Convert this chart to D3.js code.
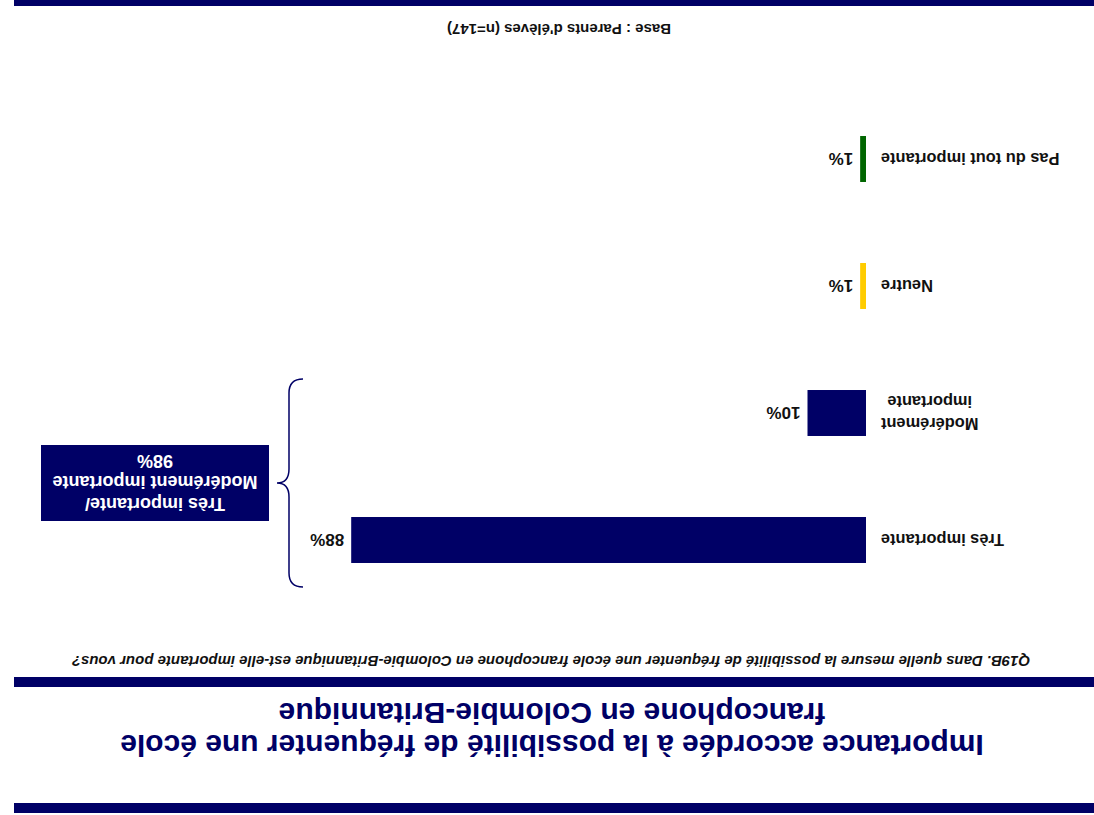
<!DOCTYPE html>
<html>
<head>
<meta charset="utf-8">
<script src="https://cdn.jsdelivr.net/npm/d3@7"></script>
<style>
  html, body { margin: 0; padding: 0; background: #fff; }
  svg { display: block; }
  text { font-family: "Liberation Sans", Arial, Helvetica, sans-serif; font-weight: bold; }
</style>
</head>
<body>
<svg id="chart" width="1094" height="815"></svg>
<script>
// Survey results: importance of attending a francophone school in B.C.
const categories = [
  ["Très importante"],
  ["Modérément", "importante"],
  ["Neutre"],
  ["Pas du tout importante"]
];
const values = [88, 10, 1, 1];
const barColors = ["#000066", "#000066", "#FFCC00", "#006600"];
const valueLabels = ["88%", "10%", "1%", "1%"];

const titleLines = [
  "Importance accordée à la possibilité de fréquenter une école",
  "francophone en Colombie-Britannique"
];
const questionText = "Q19B. Dans quelle mesure la possibilité de fréquenter une école francophone en Colombie-Britannique est-elle importante pour vous?";
const baseText = "Base : Parents d'élèves (n=147)";
const summaryLines = ["Très importante/", "Modérément importante", "98%"];
const summaryGroup = [0, 1]; // categories covered by the brace

(function draw() {
  const W = 1094, H = 815;
  const navy = "#000066";

  const svg = d3.select("#chart");
  // the whole slide is displayed turned half a revolution
  const g = svg.append("g").attr("transform", `rotate(180 ${W / 2} ${H / 2})`);

  // frame bands
  const bands = [[2, 10], [128, 10], [809, 6]];
  g.selectAll("rect.band").data(bands).join("rect")
    .attr("class", "band")
    .attr("x", 0).attr("y", d => d[0])
    .attr("width", 1080).attr("height", d => d[1])
    .attr("fill", navy);

  // title
  g.append("text")
    .attr("text-anchor", "middle")
    .attr("fill", navy)
    .attr("font-size", 30)
    .selectAll("tspan").data(titleLines).join("tspan")
    .attr("x", 542)
    .attr("y", (d, i) => 80 + i * 32)
    .text(d => d);

  // question
  g.append("text")
    .attr("x", 543).attr("y", 159)
    .attr("text-anchor", "middle")
    .attr("font-size", 15)
    .attr("font-style", "italic")
    .attr("fill", "#111")
    .text(questionText);

  // base
  g.append("text")
    .attr("x", 535).attr("y", 791)
    .attr("text-anchor", "middle")
    .attr("font-size", 15)
    .attr("fill", "#111")
    .text(baseText);

  // scales
  const x = d3.scaleLinear().domain([0, 100]).range([228, 228 + 585]);
  const y = d3.scaleBand()
    .domain(d3.range(categories.length))
    .range([211.5, 719.5])
    .paddingInner(0.638)
    .paddingOuter(0.319);

  // bars
  g.selectAll("rect.bar").data(values).join("rect")
    .attr("class", "bar")
    .attr("x", x(0))
    .attr("y", (d, i) => y(i))
    .attr("width", d => x(d) - x(0))
    .attr("height", y.bandwidth())
    .attr("fill", (d, i) => barColors[i]);

  // value labels
  g.selectAll("text.value").data(values).join("text")
    .attr("class", "value")
    .attr("x", d => x(d) + 7)
    .attr("y", (d, i) => y(i) + y.bandwidth() / 2 + 6)
    .attr("font-size", 17)
    .attr("fill", "#111")
    .text((d, i) => valueLabels[i]);

  // category labels (right-aligned, multi-line labels centred on their widest line)
  const labelRight = 213;
  categories.forEach((lines, i) => {
    const t = g.append("text")
      .attr("font-size", 16.4)
      .attr("fill", "#111");
    const cy = y(i) + y.bandwidth() / 2;
    const lh = 22;
    const spans = t.selectAll("tspan").data(lines).join("tspan")
      .attr("y", (d, j) => cy + 6 + (j - (lines.length - 1) / 2) * lh)
      .text(d => d);
    if (lines.length === 1) {
      spans.attr("x", labelRight).attr("text-anchor", "end");
    } else {
      const widths = spans.nodes().map(n => n.getComputedTextLength());
      const cx = labelRight - d3.max(widths) / 2;
      spans.attr("x", cx).attr("text-anchor", "middle");
    }
  });

  // brace grouping the two positive categories
  const yTop = y(summaryGroup[0]) - 24;
  const yBot = y(summaryGroup[1]) + y.bandwidth() + 11;
  const yMid = (yTop + yBot) / 2;
  const bx0 = 791, bx1 = 805, bx2 = 817, r = 14;
  const brace = d3.path();
  brace.moveTo(bx0, yTop);
  brace.quadraticCurveTo(bx1, yTop, bx1, yTop + r);
  brace.lineTo(bx1, yMid - r);
  brace.quadraticCurveTo(bx1, yMid, bx2, yMid);
  brace.quadraticCurveTo(bx1, yMid, bx1, yMid + r);
  brace.lineTo(bx1, yBot - r);
  brace.quadraticCurveTo(bx1, yBot, bx0, yBot);
  g.append("path")
    .attr("d", brace.toString())
    .attr("fill", "none")
    .attr("stroke", navy)
    .attr("stroke-width", 1.5);

  // summary box
  const boxW = 228, boxH = 76, boxX = 825;
  g.append("rect")
    .attr("x", boxX).attr("y", yMid - boxH / 2)
    .attr("width", boxW).attr("height", boxH)
    .attr("fill", navy);
  g.append("text")
    .attr("text-anchor", "middle")
    .attr("font-size", 18)
    .attr("fill", "#fff")
    .selectAll("tspan").data(summaryLines).join("tspan")
    .attr("x", boxX + boxW / 2)
    .attr("y", (d, i) => yMid + 7 + (i - 1) * 21.5)
    .text(d => d);
})();
</script>
</body>
</html>
